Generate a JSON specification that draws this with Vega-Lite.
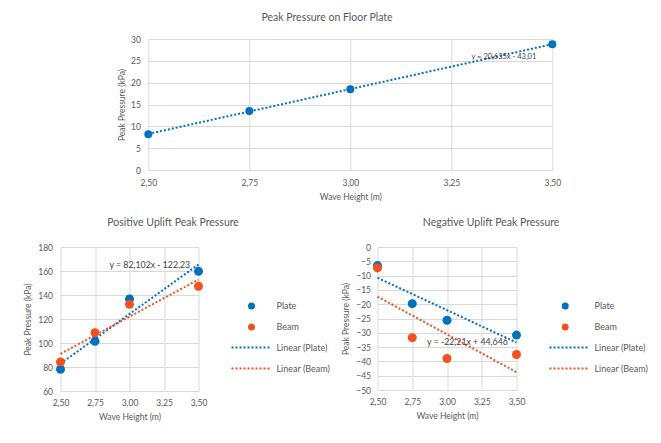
{
  "$schema": "https://vega.github.io/schema/vega-lite/v6.json",
  "background": "white",
  "padding": {"left": 23.5, "top": 12, "right": 2, "bottom": 2},
  "center": true,
  "spacing": 16,
  "config": {
    "font": "Lato",
    "view": {"stroke": null},
    "axis": {
      "labelFont": "Lato", "titleFont": "Lato",
      "labelFontSize": 8.5, "titleFontSize": 8.5,
      "labelColor": "#595959", "titleColor": "#595959",
      "titleFontWeight": "normal",
      "domain": false, "ticks": false,
      "gridColor": "#d9d9d9", "gridWidth": 1, "gridOpacity": 1,
      "labelOverlap": false, "labelFlush": false
    },
    "title": {"font": "Lato", "fontSize": 10.5, "fontWeight": "normal", "color": "#595959", "frame": "bounds", "anchor": "middle"},
    "legend": {"labelFont": "Lato", "labelFontSize": 9, "labelColor": "#595959", "padding": 0}
  },
  "datasets": {
    "floor": [
      {"x": 2.5, "y": 8.2, "series": "Plate"},
      {"x": 2.75, "y": 13.5, "series": "Plate"},
      {"x": 3.0, "y": 18.5, "series": "Plate"},
      {"x": 3.5, "y": 28.8, "series": "Plate"}
    ],
    "positive": [
      {"x": 2.5, "y": 78.1, "series": "Plate", "trend": "Linear (Plate)"},
      {"x": 2.75, "y": 101.4, "series": "Plate", "trend": "Linear (Plate)"},
      {"x": 3.0, "y": 136.7, "series": "Plate", "trend": "Linear (Plate)"},
      {"x": 3.5, "y": 159.7, "series": "Plate", "trend": "Linear (Plate)"},
      {"x": 2.5, "y": 84.2, "series": "Beam", "trend": "Linear (Beam)"},
      {"x": 2.75, "y": 108.6, "series": "Beam", "trend": "Linear (Beam)"},
      {"x": 3.0, "y": 132.2, "series": "Beam", "trend": "Linear (Beam)"},
      {"x": 3.5, "y": 147.2, "series": "Beam", "trend": "Linear (Beam)"}
    ],
    "negative": [
      {"x": 2.5, "y": -6.5, "series": "Plate", "trend": "Linear (Plate)"},
      {"x": 2.75, "y": -19.8, "series": "Plate", "trend": "Linear (Plate)"},
      {"x": 3.0, "y": -25.6, "series": "Plate", "trend": "Linear (Plate)"},
      {"x": 3.5, "y": -30.8, "series": "Plate", "trend": "Linear (Plate)"},
      {"x": 2.5, "y": -7.3, "series": "Beam", "trend": "Linear (Beam)"},
      {"x": 2.75, "y": -31.7, "series": "Beam", "trend": "Linear (Beam)"},
      {"x": 3.0, "y": -39.0, "series": "Beam", "trend": "Linear (Beam)"},
      {"x": 3.5, "y": -37.6, "series": "Beam", "trend": "Linear (Beam)"}
    ]
  },
  "vconcat": [
    {
      "title": {"text": "Peak Pressure on Floor Plate", "offset": 12, "dx": -12},
      "width": 404,
      "height": 131,
      "layer": [
        {
          "data": {"name": "floor"},
          "transform": [{"regression": "y", "on": "x"}],
          "mark": {"type": "line", "strokeDash": [2, 2], "strokeWidth": 2, "color": "#0070C0"},
          "encoding": {
            "x": {"field": "x", "type": "quantitative",
              "scale": {"domain": [2.5, 3.5], "nice": false, "zero": false},
              "axis": {"values": [2.5, 2.75, 3.0, 3.25, 3.5], "labelExpr": "replace(format(datum.value, '.2f'), '.', ',')", "title": "Wave Height (m)", "labelPadding": 8, "titlePadding": 6}},
            "y": {"field": "y", "type": "quantitative",
              "scale": {"domain": [0, 30], "nice": false},
              "axis": {"values": [0, 5, 10, 15, 20, 25, 30], "title": "Peak Pressure (kPa)", "labelPadding": 8, "titlePadding": 4}}
          }
        },
        {
          "data": {"name": "floor"},
          "mark": {"type": "point", "filled": true, "opacity": 1, "size": 64, "color": "#0070C0"},
          "encoding": {
            "x": {"field": "x", "type": "quantitative",
              "scale": {"domain": [2.5, 3.5], "nice": false, "zero": false},
              "axis": {"values": [2.5, 2.75, 3.0, 3.25, 3.5], "labelExpr": "replace(format(datum.value, '.2f'), '.', ',')", "title": "Wave Height (m)", "labelPadding": 8, "titlePadding": 6}},
            "y": {"field": "y", "type": "quantitative",
              "scale": {"domain": [0, 30], "nice": false},
              "axis": {"values": [0, 5, 10, 15, 20, 25, 30], "title": "Peak Pressure (kPa)", "labelPadding": 8, "titlePadding": 4}}
          }
        },
        {
          "data": {"values": [{"eq": "y = 20,635x - 43,01"}]},
          "mark": {"type": "text", "align": "left", "baseline": "middle", "fontSize": 7.5, "color": "#404040"},
          "encoding": {
            "x": {"datum": 3.3, "type": "quantitative",
              "scale": {"domain": [2.5, 3.5], "nice": false, "zero": false},
              "axis": {"values": [2.5, 2.75, 3.0, 3.25, 3.5], "labelExpr": "replace(format(datum.value, '.2f'), '.', ',')", "title": "Wave Height (m)", "labelPadding": 8, "titlePadding": 6}},
            "y": {"datum": 25.9, "type": "quantitative",
              "scale": {"domain": [0, 30], "nice": false},
              "axis": {"values": [0, 5, 10, 15, 20, 25, 30], "title": "Peak Pressure (kPa)", "labelPadding": 8, "titlePadding": 4}},
            "text": {"field": "eq"}
          }
        }
      ]
    },
    {
      "spacing": 11,
      "resolve": {"scale": {"color": "independent", "stroke": "independent"}, "legend": {"color": "independent", "stroke": "independent"}},
      "hconcat": [
        {
          "title": {"text": "Positive Uplift Peak Pressure", "offset": 15, "dx": -4},
          "width": 138,
          "height": 144,
          "layer": [
            {
              "data": {"name": "positive"},
              "transform": [{"regression": "y", "on": "x", "groupby": ["trend"]}],
              "mark": {"type": "line", "strokeDash": [2, 2], "strokeWidth": 2},
              "encoding": {
                "x": {"field": "x", "type": "quantitative",
                  "scale": {"domain": [2.5, 3.5], "nice": false, "zero": false},
                  "axis": {"values": [2.5, 2.75, 3.0, 3.25, 3.5], "labelExpr": "replace(format(datum.value, '.2f'), '.', ',')", "title": "Wave Height (m)", "labelPadding": 7, "titlePadding": 6}},
                "y": {"field": "y", "type": "quantitative",
                  "scale": {"domain": [60, 180], "nice": false, "zero": false},
                  "axis": {"values": [60, 80, 100, 120, 140, 160, 180], "title": "Peak Pressure (kPa)", "labelPadding": 8, "titlePadding": 5}},
                "stroke": {"field": "trend", "type": "nominal",
                  "scale": {"domain": ["Linear (Plate)", "Linear (Beam)"], "range": ["#0070C0", "#F4511E"]},
                  "legend": {"orient": "none", "legendX": 170, "legendY": 96, "title": null, "direction": "vertical", "symbolType": "stroke", "symbolSize": 1444, "symbolStrokeWidth": 2, "symbolDash": [2, 2], "clipHeight": 9, "rowPadding": 11, "labelOffset": 6}}
              }
            },
            {
              "data": {"name": "positive"},
              "mark": {"type": "point", "filled": true, "opacity": 1, "size": 81},
              "encoding": {
                "x": {"field": "x", "type": "quantitative",
                  "scale": {"domain": [2.5, 3.5], "nice": false, "zero": false},
                  "axis": {"values": [2.5, 2.75, 3.0, 3.25, 3.5], "labelExpr": "replace(format(datum.value, '.2f'), '.', ',')", "title": "Wave Height (m)", "labelPadding": 7, "titlePadding": 6}},
                "y": {"field": "y", "type": "quantitative",
                  "scale": {"domain": [60, 180], "nice": false, "zero": false},
                  "axis": {"values": [60, 80, 100, 120, 140, 160, 180], "title": "Peak Pressure (kPa)", "labelPadding": 8, "titlePadding": 5}},
                "color": {"field": "series", "type": "nominal",
                  "scale": {"domain": ["Plate", "Beam"], "range": ["#0070C0", "#F4511E"]},
                  "legend": {"orient": "none", "legendX": 170, "legendY": 54.5, "title": null, "direction": "vertical", "symbolType": "circle", "symbolSize": 49, "symbolStrokeWidth": 0, "clipHeight": 9, "rowPadding": 11, "symbolOffset": 16.5, "labelOffset": 20.5}}
              }
            },
            {
              "data": {"values": [{"eq": "y = 82,102x - 122,23"}]},
              "mark": {"type": "text", "align": "left", "baseline": "middle", "fontSize": 8.75, "color": "#404040"},
              "encoding": {
                "x": {"datum": 2.855, "type": "quantitative",
                  "scale": {"domain": [2.5, 3.5], "nice": false, "zero": false},
                  "axis": {"values": [2.5, 2.75, 3.0, 3.25, 3.5], "labelExpr": "replace(format(datum.value, '.2f'), '.', ',')", "title": "Wave Height (m)", "labelPadding": 7, "titlePadding": 6}},
                "y": {"datum": 165, "type": "quantitative",
                  "scale": {"domain": [60, 180], "nice": false, "zero": false},
                  "axis": {"values": [60, 80, 100, 120, 140, 160, 180], "title": "Peak Pressure (kPa)", "labelPadding": 8, "titlePadding": 5}},
                "text": {"field": "eq"}
              }
            }
          ]
        },
        {
          "title": {"text": "Negative Uplift Peak Pressure", "offset": 15, "dx": -4},
          "width": 139,
          "height": 143,
          "layer": [
            {
              "data": {"name": "negative"},
              "transform": [{"regression": "y", "on": "x", "groupby": ["trend"]}],
              "mark": {"type": "line", "strokeDash": [2, 2], "strokeWidth": 2},
              "encoding": {
                "x": {"field": "x", "type": "quantitative",
                  "scale": {"domain": [2.5, 3.5], "nice": false, "zero": false},
                  "axis": {"values": [2.5, 2.75, 3.0, 3.25, 3.5], "labelExpr": "replace(format(datum.value, '.2f'), '.', ',')", "title": "Wave Height (m)", "labelPadding": 7, "titlePadding": 6}},
                "y": {"field": "y", "type": "quantitative",
                  "scale": {"domain": [-50, 0], "nice": false, "zero": false},
                  "axis": {"values": [-50, -45, -40, -35, -30, -25, -20, -15, -10, -5, 0], "title": "Peak Pressure (kPa)", "labelPadding": 7, "titlePadding": 5}},
                "stroke": {"field": "trend", "type": "nominal",
                  "scale": {"domain": ["Linear (Plate)", "Linear (Beam)"], "range": ["#0070C0", "#F4511E"]},
                  "legend": {"orient": "none", "legendX": 171, "legendY": 96, "title": null, "direction": "vertical", "symbolType": "stroke", "symbolSize": 1444, "symbolStrokeWidth": 2, "symbolDash": [2, 2], "clipHeight": 9, "rowPadding": 11, "labelOffset": 6}}
              }
            },
            {
              "data": {"name": "negative"},
              "mark": {"type": "point", "filled": true, "opacity": 1, "size": 81},
              "encoding": {
                "x": {"field": "x", "type": "quantitative",
                  "scale": {"domain": [2.5, 3.5], "nice": false, "zero": false},
                  "axis": {"values": [2.5, 2.75, 3.0, 3.25, 3.5], "labelExpr": "replace(format(datum.value, '.2f'), '.', ',')", "title": "Wave Height (m)", "labelPadding": 7, "titlePadding": 6}},
                "y": {"field": "y", "type": "quantitative",
                  "scale": {"domain": [-50, 0], "nice": false, "zero": false},
                  "axis": {"values": [-50, -45, -40, -35, -30, -25, -20, -15, -10, -5, 0], "title": "Peak Pressure (kPa)", "labelPadding": 7, "titlePadding": 5}},
                "color": {"field": "series", "type": "nominal",
                  "scale": {"domain": ["Plate", "Beam"], "range": ["#0070C0", "#F4511E"]},
                  "legend": {"orient": "none", "legendX": 171, "legendY": 54.5, "title": null, "direction": "vertical", "symbolType": "circle", "symbolSize": 49, "symbolStrokeWidth": 0, "clipHeight": 9, "rowPadding": 11, "symbolOffset": 12.2, "labelOffset": 24.8}}
              }
            },
            {
              "data": {"values": [{"eq": "y = -22,21x + 44,646"}]},
              "mark": {"type": "text", "align": "left", "baseline": "middle", "fontSize": 8.75, "color": "#404040"},
              "encoding": {
                "x": {"datum": 2.857, "type": "quantitative",
                  "scale": {"domain": [2.5, 3.5], "nice": false, "zero": false},
                  "axis": {"values": [2.5, 2.75, 3.0, 3.25, 3.5], "labelExpr": "replace(format(datum.value, '.2f'), '.', ',')", "title": "Wave Height (m)", "labelPadding": 7, "titlePadding": 6}},
                "y": {"datum": -33.2, "type": "quantitative",
                  "scale": {"domain": [-50, 0], "nice": false, "zero": false},
                  "axis": {"values": [-50, -45, -40, -35, -30, -25, -20, -15, -10, -5, 0], "title": "Peak Pressure (kPa)", "labelPadding": 7, "titlePadding": 5}},
                "text": {"field": "eq"}
              }
            }
          ]
        }
      ]
    }
  ]
}
